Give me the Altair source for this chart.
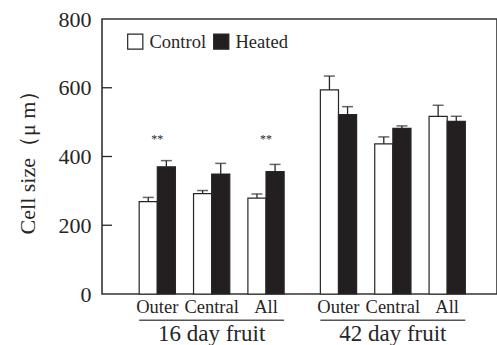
import altair as alt
import pandas as pd

# ---- data ----
ages = ["16 day fruit", "42 day fruit"]
regions = ["Outer", "Central", "All"]
treatments = ["Control", "Heated"]
control_mean = [269, 292, 279, 594, 437, 517]
control_err = [12, 9, 12, 40, 20, 32]
heated_mean = [370, 349, 356, 522, 482, 502]
heated_err = [18, 31, 21, 23, 7, 15]
significance = ["**", "", "**", "", "", ""]
tick_values = [0, 200, 400, 600, 800]

FONT = "'Liberation Serif', 'Times New Roman', serif"
INK = "#262626"

# slots inside each age group: pair, gap, pair, gap, pair
slot_domain = []
for k, r in enumerate(regions):
    slot_domain += [f"{r}|Control", f"{r}|Heated"]
    if k < len(regions) - 1:
        slot_domain.append(f"gap{k}")

rows = []
labels = []
for i, age in enumerate(ages):
    for j, reg in enumerate(regions):
        idx = i * len(regions) + j
        for t, m, e in (("Control", control_mean[idx], control_err[idx]),
                        ("Heated", heated_mean[idx], heated_err[idx])):
            rows.append(dict(age=age, region=reg, treatment=t, slot=f"{reg}|{t}",
                             mean=m, upper=m + e))
        labels.append(dict(age=age, region=reg, slot=f"{reg}|Control",
                           sig=significance[idx]))
bars_df = pd.DataFrame(rows)
labels_df = pd.DataFrame(labels)
sig_df = labels_df[labels_df["sig"] != ""]
ages_df = pd.DataFrame({"age": ages})
ticks_df = pd.DataFrame({"v": tick_values[1:-1]})

x_enc = alt.X("age:N", scale=alt.Scale(domain=ages, paddingInner=0.2,
                                         paddingOuter=0.19, align=0.54), axis=None)
xo_enc = alt.XOffset("slot:N", scale=alt.Scale(domain=slot_domain, paddingInner=0,
                                                paddingOuter=0))
y_scale = alt.Scale(domain=[0, 800])

bars = alt.Chart(bars_df).mark_bar(stroke=INK, strokeWidth=1.2).encode(
    x=x_enc,
    xOffset=xo_enc,
    y=alt.Y("mean:Q", scale=y_scale,
            axis=alt.Axis(values=tick_values, title="Cell size（μ m）",
                          ticks=False, tickSize=0, domain=False, grid=False,
                          labelPadding=11, labelFont=FONT, labelFontSize=22,
                          labelColor=INK, titleFont=FONT, titleFontSize=22,
                          titleFontWeight="normal", titleColor=INK,
                          titlePadding=19)),
    fill=alt.Fill("treatment:N",
                  scale=alt.Scale(domain=treatments, range=["white", "#231f20"]),
                  legend=alt.Legend(orient="none", legendX=24, legendY=13,
                                    direction="horizontal", title=None,
                                    symbolType="square", symbolSize=230,
                                    symbolStrokeColor=INK, symbolStrokeWidth=1.2,
                                    labelFont=FONT, labelFontSize=18.5,
                                    labelColor=INK, labelOffset=5,
                                    columnPadding=4)),
)

err_stem = alt.Chart(bars_df).mark_rule(color=INK, strokeWidth=1.3).encode(
    x=x_enc, xOffset=xo_enc, y=alt.Y("mean:Q", scale=y_scale), y2="upper:Q")

err_cap = alt.Chart(bars_df).mark_tick(color=INK, thickness=1.5, size=11).encode(
    x=x_enc, xOffset=xo_enc, y=alt.Y("upper:Q", scale=y_scale))

sig = alt.Chart(sig_df).mark_text(font=FONT, fontSize=12, color=INK, dx=9).encode(
    x=x_enc, xOffset=xo_enc, y=alt.datum(450), text="sig:N")

inner_ticks = alt.Chart(ticks_df).mark_rule(color=INK, strokeWidth=1.3).encode(
    y=alt.Y("v:Q", scale=y_scale), x=alt.value(0), x2=alt.value(10))

cat_labels = alt.Chart(labels_df).mark_text(
    font=FONT, fontSize=18.5, color=INK, dx=9, baseline="middle").encode(
    x=x_enc, xOffset=xo_enc, y=alt.value(288), text="region:N")

underline = alt.Chart(ages_df).mark_bar(color="#555555").encode(
    x=x_enc, y=alt.value(300.5), y2=alt.value(302))

group_labels = alt.Chart(ages_df).mark_text(
    font=FONT, fontSize=23, color=INK, baseline="middle").encode(
    x=x_enc, y=alt.value(315), text="age:N")

chart = alt.layer(
    bars, err_stem, err_cap, sig, inner_ticks, cat_labels, underline, group_labels
).properties(
    width=395, height=275,
    background="white",
    autosize=alt.AutoSizeParams(type="none"),
    padding={"left": 102, "top": 19, "right": 0, "bottom": 51},
).configure_view(
    stroke="#333333", strokeWidth=1.6
)

chart.save("out.html", embed_options={"renderer": "svg", "actions": False})
